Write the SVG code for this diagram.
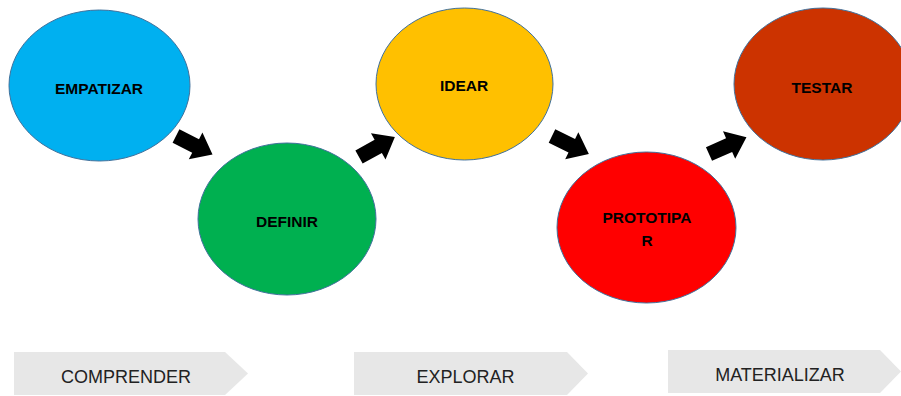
<svg xmlns="http://www.w3.org/2000/svg" width="901" height="396" viewBox="0 0 901 396">
<style>
.node ellipse{stroke:#41719c;stroke-width:1}
.lbl{font-family:"Liberation Sans",Arial,sans-serif;font-weight:bold;font-size:15.5px;fill:#000;text-anchor:middle}
.phase polygon{fill:#e7e7e7}
.ptxt{font-family:"Liberation Sans",Arial,sans-serif;font-size:18px;fill:#222;text-anchor:middle}
.arr{fill:#000}
</style>
<defs>
<path id="blk" d="M0,-7.5 H22 V-15 L41,0 L22,15 V7.5 H0 Z"/>
</defs>
<rect width="901" height="396" fill="#fff"/>
<g id="empatizar" class="node">
<ellipse cx="99.5" cy="85.5" rx="90.5" ry="75.5" fill="#00b0f0"/>
<text class="lbl" x="99" y="93.5">EMPATIZAR</text>
</g>
<g id="definir" class="node">
<ellipse cx="287" cy="219" rx="89" ry="76" fill="#00b050"/>
<text class="lbl" x="287" y="226.5">DEFINIR</text>
</g>
<g id="idear" class="node">
<ellipse cx="464.5" cy="84" rx="88.5" ry="76" fill="#ffc000"/>
<text class="lbl" x="464" y="90.5">IDEAR</text>
</g>
<g id="prototipar" class="node">
<ellipse cx="646.5" cy="227.5" rx="89.5" ry="75.5" fill="#ff0000"/>
<text class="lbl" x="647" y="222.5">PROTOTIPA</text>
<text class="lbl" x="647" y="245.5">R</text>
</g>
<g id="testar" class="node">
<ellipse cx="823" cy="84" rx="89" ry="76" fill="#cc3300"/>
<text class="lbl" x="822" y="93">TESTAR</text>
</g>
<g id="connectors" class="arr">
<use href="#blk" transform="translate(176,136) rotate(27)"/>
<use href="#blk" transform="translate(359,157) rotate(-29)"/>
<use href="#blk" transform="translate(552,136) rotate(26)"/>
<use href="#blk" transform="translate(709,154) rotate(-24)"/>
</g>
<g id="comprender" class="phase">
<polygon points="14,352 225,352 248,373.5 225,395 14,395"/>
<text class="ptxt" x="126" y="383">COMPRENDER</text>
</g>
<g id="explorar" class="phase">
<polygon points="354,352 567,352 588,373.5 567,395 354,395"/>
<text class="ptxt" x="465.5" y="383">EXPLORAR</text>
</g>
<g id="materializar" class="phase">
<polygon points="668,350 880,350 901,371.5 880,393 668,393"/>
<text class="ptxt" x="780" y="381">MATERIALIZAR</text>
</g>
</svg>
